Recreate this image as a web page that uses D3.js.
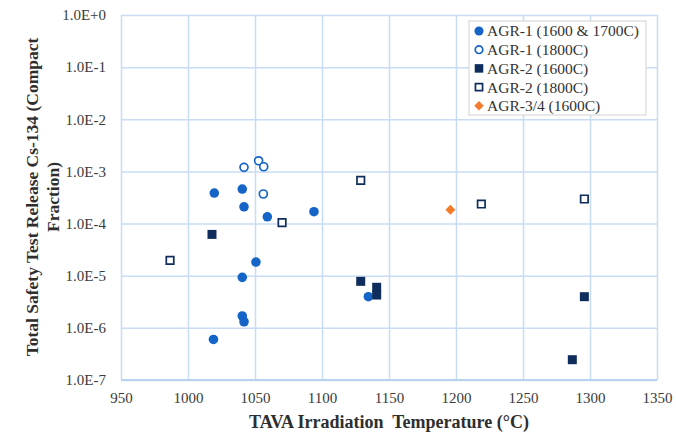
<!DOCTYPE html>
<html>
<head>
<meta charset="utf-8">
<script src="https://cdn.jsdelivr.net/npm/d3@7"></script>
<style>
  body{margin:0;background:#fff;}
  svg{display:block;font-family:"Liberation Serif","Times New Roman",serif;}
</style>
</head>
<body>
<div id="chart"></div>
<script>
// values
const xTicks=[950,1000,1050,1100,1150,1200,1250,1300,1350];
const yTicks=[1,1e-1,1e-2,1e-3,1e-4,1e-5,1e-6,1e-7];
const yTickLabels=["1.0E+0","1.0E-1","1.0E-2","1.0E-3","1.0E-4","1.0E-5","1.0E-6","1.0E-7"];

const agr1LowT=[1019.6,1040.5,1041.8,1059.2,1094,1050.7,1040.5,1040.5,1041.8,1019,1134.6];
const agr1LowV=[3.85e-4,4.6e-4,2.1e-4,1.35e-4,1.69e-4,1.83e-5,9.3e-6,1.69e-6,1.31e-6,6.0e-7,3.96e-6];
const agr1HighT=[1041.8,1052.7,1056.5,1056.2];
const agr1HighV=[1.2e-3,1.6e-3,1.23e-3,3.69e-4];
const agr2LowT=[1017.9,1128.9,1140.8,1140.8,1295.8,1286.8];
const agr2LowV=[6.2e-5,7.8e-6,6.0e-6,4.26e-6,3.96e-6,2.45e-7];
const agr2HighT=[986.6,1070.2,1128.9,1218.9,1295.8];
const agr2HighV=[1.97e-5,1.04e-4,6.75e-4,2.37e-4,2.96e-4];
const agr34T=[1195.8];
const agr34V=[1.85e-4];

const seriesNames=["AGR-1 (1600 & 1700C)","AGR-1 (1800C)","AGR-2 (1600C)","AGR-2 (1800C)","AGR-3/4 (1600C)"];

(function(){
  const W=676,H=434;
  const m={top:15,right:19,bottom:54,left:121};
  const w=W-m.left-m.right, ih=H-m.top-m.bottom;
  const svg=d3.select("#chart").append("svg").attr("width",W).attr("height",H);
  const g=svg.append("g").attr("transform",`translate(${m.left},${m.top})`);
  const x=d3.scaleLinear().domain([950,1350]).range([0,w]);
  const y=d3.scaleLog().domain([1e-7,1]).range([ih,0]);
  const grid="#c8dcf3";
  const serif="Liberation Serif, Times New Roman, serif";

  // gridlines
  g.append("g").attr("transform",`translate(0,${ih})`)
    .call(d3.axisBottom(x).tickValues(xTicks).tickSize(-ih).tickFormat(""))
    .call(s=>s.select(".domain").remove())
    .call(s=>s.selectAll("line").attr("stroke",grid).attr("stroke-width",1.5));
  g.append("g")
    .call(d3.axisLeft(y).tickValues(yTicks).tickSize(-w).tickFormat(""))
    .call(s=>s.select(".domain").remove())
    .call(s=>s.selectAll("line").attr("stroke",grid).attr("stroke-width",1.5));
  g.append("line").attr("x1",0).attr("x2",w).attr("y1",ih).attr("y2",ih)
    .attr("stroke","#b9d2ef").attr("stroke-width",2);

  // tick labels
  g.append("g")
    .call(d3.axisLeft(y).tickValues(yTicks).tickSize(0).tickPadding(15).tickFormat((d,i)=>yTickLabels[i]))
    .call(s=>s.select(".domain").remove())
    .call(s=>s.selectAll("text").attr("fill","#3a3a3a").attr("font-size",15).attr("font-family",serif));
  g.append("g").attr("transform",`translate(0,${ih})`)
    .call(d3.axisBottom(x).tickValues(xTicks).tickSize(0).tickPadding(12).tickFormat(d3.format("d")))
    .call(s=>s.select(".domain").remove())
    .call(s=>s.selectAll("text").attr("fill","#3a3a3a").attr("font-size",15).attr("font-family",serif));

  // axis titles
  svg.append("text").attr("x",m.left+w/2).attr("y",428)
    .attr("text-anchor","middle").attr("font-size",18).attr("font-weight","bold")
    .attr("fill","#2e2e2e").style("white-space","pre")
    .text("TAVA Irradiation  Temperature (\u00B0C)");
  const yt=svg.append("text").attr("transform","translate(38,197) rotate(-90)")
    .attr("text-anchor","middle").attr("font-size",17.5).attr("font-weight","bold").attr("fill","#2e2e2e");
  yt.append("tspan").attr("x",0).attr("y",0).text("Total Safety Test Release Cs-134 (Compact");
  yt.append("tspan").attr("x",0).attr("y",21).text("Fraction)");

  // series
  const blue="#1565c8", navy="#0f2d5c", orange="#f47b2c";
  const series=[
    {t:agr1LowT,v:agr1LowV,type:d3.symbolCircle,size:72,fill:blue,stroke:"none",rot:0},
    {t:agr1HighT,v:agr1HighV,type:d3.symbolCircle,size:50,fill:"#fff",stroke:blue,rot:0},
    {t:agr2LowT,v:agr2LowV,type:d3.symbolSquare,size:81,fill:navy,stroke:"none",rot:0},
    {t:agr2HighT,v:agr2HighV,type:d3.symbolSquare,size:56,fill:"#fff",stroke:navy,rot:0},
    {t:agr34T,v:agr34V,type:d3.symbolSquare,size:50,fill:orange,stroke:"none",rot:45}
  ];
  series.forEach(s=>{
    const pts=s.t.map((t,i)=>({t,v:s.v[i]}));
    g.append("g").selectAll("path").data(pts).join("path")
      .attr("d",d3.symbol(s.type,s.size))
      .attr("transform",d=>`translate(${x(d.t)},${y(d.v)}) rotate(${s.rot})`)
      .attr("fill",s.fill).attr("stroke",s.stroke).attr("stroke-width",1.7);
  });

  // legend
  const lg=svg.append("g").attr("transform","translate(469,21)");
  lg.append("rect").attr("width",177).attr("height",94).attr("fill","#fff")
    .attr("stroke","#d9d9d9").attr("stroke-width",1.2);
  seriesNames.forEach((name,i)=>{
    const s=series[i], yy=10+i*18.7;
    lg.append("path").attr("d",d3.symbol(s.type,s.size*0.9))
      .attr("transform",`translate(10,${yy}) rotate(${s.rot})`)
      .attr("fill",s.fill).attr("stroke",s.stroke).attr("stroke-width",1.7);
    lg.append("text").attr("x",18).attr("y",yy).attr("dy","0.35em")
      .attr("font-size",15.5).attr("fill","#333").text(name);
  });
})();
</script>
</body>
</html>
